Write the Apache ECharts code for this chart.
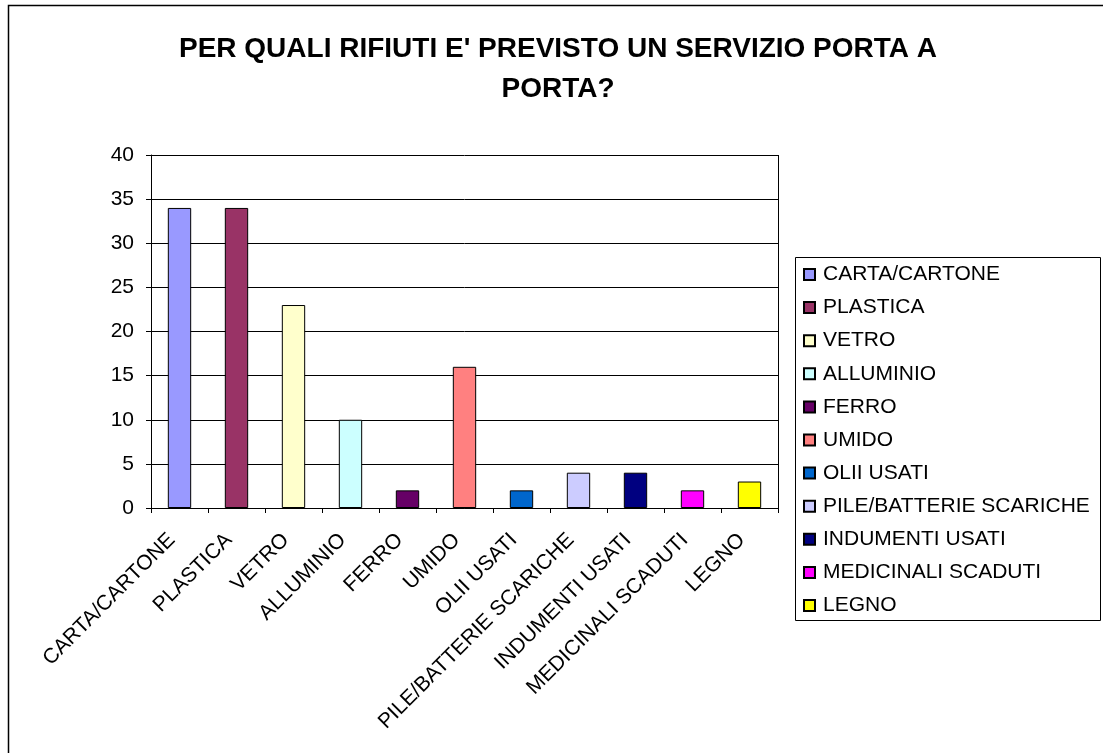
<!DOCTYPE html>
<html>
<head>
<meta charset="utf-8">
<script src="https://cdn.jsdelivr.net/npm/echarts@6/dist/echarts.min.js"></script>
<style>
  html, body { margin: 0; padding: 0; background: #fff; }
  #chart { width: 1103px; height: 753px; }
</style>
</head>
<body>
<div id="chart"></div>
<script>
// Waste types collected door to door
const categories = [
  'CARTA/CARTONE', 'PLASTICA', 'VETRO', 'ALLUMINIO', 'FERRO', 'UMIDO',
  'OLII USATI', 'PILE/BATTERIE SCARICHE', 'INDUMENTI USATI',
  'MEDICINALI SCADUTI', 'LEGNO'
];
const values = [34, 34, 23, 10, 2, 16, 2, 4, 4, 2, 3];
const colors = [
  '#9999FF', '#993366', '#FFFFCC', '#CCFFFF', '#660066', '#FF8080',
  '#0066CC', '#CCCCFF', '#000080', '#FF00FF', '#FFFF00'
];
const yTicks = { min: 0, max: 40, interval: 5 };

const FONT = 'Liberation Sans, Arial, sans-serif';

// one series per category so that each appears in the legend;
// stacking keeps every bar centred in its own slot
const series = categories.map((name, i) => ({
  name: name,
  type: 'bar',
  stack: 'all',
  barWidth: '41%',
  data: values.map((v, j) => (j === i ? v : null)),
  itemStyle: { color: colors[i], borderColor: '#000', borderWidth: 1 },
  emphasis: { disabled: true }
}));

const chart = echarts.init(document.getElementById('chart'), null, { renderer: 'canvas' });
chart.setOption({
  animation: false,
  backgroundColor: '#fff',
  title: {
    text: "PER QUALI RIFIUTI E' PREVISTO UN SERVIZIO PORTA A\nPORTA?",
    left: 558,
    top: 29,
    textAlign: 'center',
    padding: 0,
    textStyle: { fontFamily: FONT, fontWeight: 'bold', fontSize: 28, lineHeight: 40, color: '#000' }
  },
  graphic: [
    {
      type: 'rect',
      shape: { x: 8.5, y: 5.5, width: 1200, height: 900 },
      style: { fill: 'none', stroke: '#000', lineWidth: 1.5 },
      z: 0
    },
    {
      type: 'rect',
      shape: { x: 795.5, y: 257.5, width: 305, height: 363 },
      style: { fill: '#fff', stroke: '#000', lineWidth: 1 },
      z: 1
    }
  ],
  legend: {
    orient: 'vertical',
    left: 803,
    top: 264,
    padding: 0,
    itemWidth: 11,
    itemHeight: 11,
    itemGap: 12.1,
    icon: 'rect',
    textStyle: { fontFamily: FONT, fontSize: 21, lineHeight: 21, color: '#000', padding: [0, 0, 0, 3] },
    selectedMode: false,
    z: 5
  },
  grid: { left: 151, top: 155, width: 627, height: 353, containLabel: false },
  xAxis: {
    type: 'category',
    data: categories,
    axisLine: { lineStyle: { color: '#000', width: 1 } },
    axisTick: { show: true, length: 5, lineStyle: { color: '#000' } },
    axisLabel: {
      interval: 0,
      rotate: 45,
      margin: 21,
      padding: [0, 11, 0, 0],
      fontFamily: FONT,
      fontSize: 21,
      color: '#000'
    },
    splitLine: { show: false }
  },
  yAxis: {
    type: 'value',
    min: yTicks.min,
    max: yTicks.max,
    interval: yTicks.interval,
    axisLine: { show: true, lineStyle: { color: '#000', width: 1 } },
    axisTick: { show: true, length: 5, lineStyle: { color: '#000' } },
    axisLabel: { fontFamily: FONT, fontSize: 21, color: '#000', margin: 17 },
    splitLine: { show: true, lineStyle: { color: '#000', width: 1 } }
  },
  series: series.concat([{
    // right edge of the plot area
    type: 'line',
    data: [],
    silent: true,
    markLine: {
      symbol: 'none',
      silent: true,
      label: { show: false },
      lineStyle: { color: '#000', width: 1, type: 'solid' },
      data: [[{ x: 778.5, y: 155 }, { x: 778.5, y: 508 }]]
    }
  }])
});
</script>
</body>
</html>
